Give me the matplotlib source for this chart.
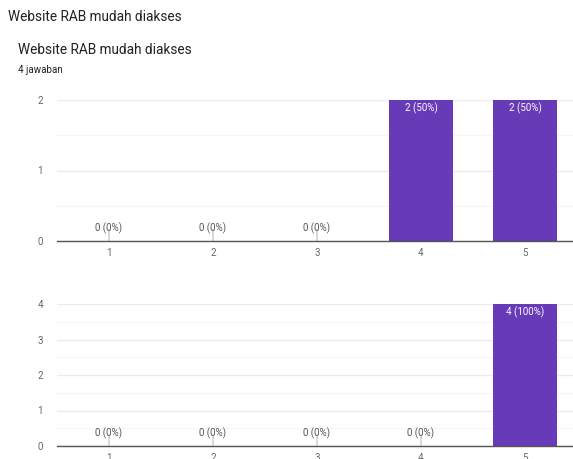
import numpy as np
import matplotlib.pyplot as plt

plt.rcParams['font.family'] = ['Roboto', 'DejaVu Sans']

page_title = "Website RAB mudah diakses"
chart_title = "Website RAB mudah diakses"
subtitle = "4 jawaban"

scores = [1, 2, 3, 4, 5]
counts_top = [0, 0, 0, 2, 2]
counts_bottom = [0, 0, 0, 0, 4]

BAR = "#673ab7"
GRID = "#ececec"
TXT = "#666666"


def draw_panel(ax, counts, ymax):
    total = sum(counts)
    ax.bar(scores, counts, width=0.62, color=BAR, zorder=3)
    ax.set_xlim(0.5, 5.5)
    ax.set_ylim(0, ymax)
    ax.set_yticks(np.arange(0, ymax + 1, 1))
    ax.set_yticks(np.arange(0.5, ymax, 1), minor=True)
    ax.set_xticks(scores)
    ax.grid(axis='y', which='major', color=GRID, lw=1.0, zorder=0)
    ax.grid(axis='y', which='minor', color="#f5f5f5", lw=0.8, zorder=0)
    for s in ['top', 'right', 'left']:
        ax.spines[s].set_visible(False)
    ax.spines['bottom'].set_color("#555555")
    ax.spines['bottom'].set_linewidth(1.0)
    ax.spines['bottom'].set_zorder(4)
    ax.tick_params(axis='both', which='both', length=0, labelsize=7, colors=TXT)
    ax.tick_params(axis='y', pad=10)
    ax.tick_params(axis='x', pad=5)
    for x, c in zip(scores, counts):
        pct = round(100 * c / total) if total else 0
        label = f"{c} ({pct}%)"
        if c == 0:
            # small stub marking an empty category, with its label on top
            ax.annotate("", xy=(x, 0), xycoords='data',
                        xytext=(0, 8), textcoords='offset points',
                        arrowprops=dict(arrowstyle='-', color="#bbbbbb", lw=0.8,
                                        shrinkA=0, shrinkB=0))
            ax.annotate(label, (x, 0), xytext=(0, 5), textcoords='offset points',
                        ha='center', va='bottom', fontsize=7, color="#555555")
        else:
            ax.annotate(label, (x, c), xytext=(0, -1.5), textcoords='offset points',
                        ha='center', va='top', fontsize=7, color='white', zorder=5)


fig = plt.figure(figsize=(5.73, 4.59), dpi=100)
fig.text(8 / 573, 1 - 17 / 459, page_title, fontsize=9.8, color="#202124", va='center')
fig.text(18 / 573, 1 - 50 / 459, chart_title, fontsize=9.8, color="#202124", va='center')
fig.text(18 / 573, 1 - 70 / 459, subtitle, fontsize=7, color="#202124", va='center')

ax1 = fig.add_axes([57 / 573, 218 / 459, 520 / 573, 141 / 459])
draw_panel(ax1, counts_top, 2)

ax2 = fig.add_axes([57 / 573, 13 / 459, 520 / 573, 142 / 459])
draw_panel(ax2, counts_bottom, 4)

fig.savefig("out.png", dpi=100, facecolor='white')
